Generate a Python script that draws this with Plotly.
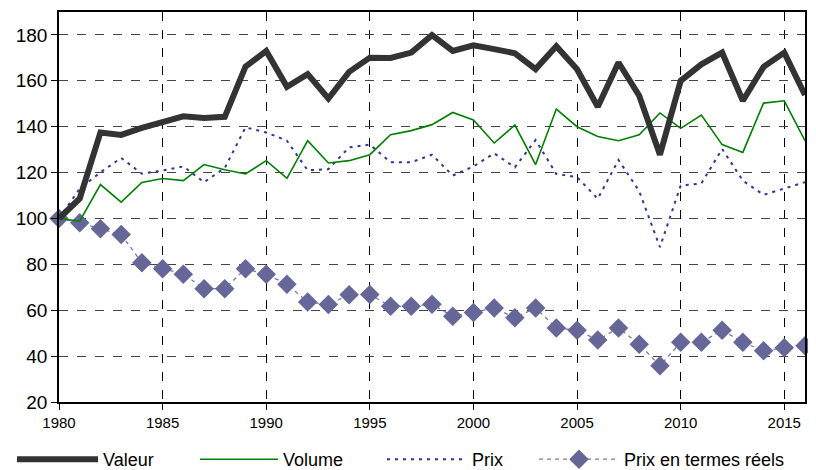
import plotly.graph_objects as go

years = list(range(1980, 2017))

valeur = [100, 108.7, 137.5, 136.4, 139.5, 142.3, 144.5, 143.8, 144.3, 166.2,
          173, 157.4, 162.9, 152.3, 163.9, 170.1, 170, 172.3, 179.9, 173,
          175.5, 173.8, 172, 165.1, 175.1, 165, 148.7, 168, 153.5, 127.8,
          160, 167.2, 172.3, 151.3, 166.1, 172.3, 153.8]

volume = [100, 98.8, 114.8, 107.1, 115.7, 117.4, 116.5, 123.5, 121.2, 119.4,
          125.2, 117.5, 133.9, 124.2, 125.2, 127.8, 136.5, 138.3, 140.9, 146.2,
          142.9, 132.9, 140.7, 123.5, 147.7, 140, 135.7, 133.9, 136.5, 146,
          139.3, 145.1, 132.2, 128.8, 150.3, 151.3, 133.9]

prix = [100, 113, 120.1, 126.4, 119.5, 120.9, 122.7, 115.8, 122, 139.7,
        137.5, 133.9, 121, 121.5, 131, 132.2, 124.5, 124.5, 127.8, 118.7,
        122.7, 128.4, 122.3, 134.2, 119.4, 118, 108.6, 125.5, 111.9, 87.5,
        114.3, 115.3, 130.3, 116.5, 110.3, 112.9, 115.8]

prix_reel = [100, 98.1, 95.5, 93, 80.7, 78.1, 75.7, 69.4, 69.4, 78.1,
             75.7, 71.3, 63.6, 62.5, 66.8, 66.9, 61.7, 61.7, 62.6, 57.4,
             59, 61, 56.7, 61, 52.3, 51.3, 47, 52.3, 45.2, 35.8,
             46, 46, 51.3, 46, 42.3, 43.6, 44.5]

x_ticks = [1980, 1985, 1990, 1995, 2000, 2005, 2010, 2015]
y_ticks = [20, 40, 60, 80, 100, 120, 140, 160, 180]

FONT = "Liberation Sans"

fig = go.Figure()
fig.add_trace(go.Scatter(x=years, y=prix_reel, name="Prix en termes réels",
                         mode="lines+markers", legend="legend4", cliponaxis=False,
                         line=dict(color="#7878B0", width=1.3, dash="4px,4px"),
                         marker=dict(symbol="diamond", size=15, color="#666699")))
fig.add_trace(go.Scatter(x=years, y=prix, name="Prix", mode="lines", legend="legend3",
                         line=dict(color="#333399", width=2, dash="3px,5px")))
fig.add_trace(go.Scatter(x=years, y=volume, name="Volume", mode="lines", legend="legend2",
                         line=dict(color="#008000", width=1.6)))
fig.add_trace(go.Scatter(x=years, y=valeur, name="Valeur", mode="lines", legend="legend",
                         line=dict(color="#333333", width=6)))


def leg(x, w):
    return dict(orientation="h", x=x / 816, xref="container", xanchor="left",
                y=0.0, yref="container", yanchor="bottom",
                itemwidth=w, font=dict(family=FONT, size=18, color="black"),
                bgcolor="rgba(0,0,0,0)")


fig.update_layout(
    width=816, height=470,
    margin=dict(l=51, r=19, t=4, b=76),
    paper_bgcolor="white", plot_bgcolor="white",
    font=dict(family=FONT, size=17, color="black"),
    showlegend=True,
    legend=leg(4, 81),
    legend2=leg(187, 78),
    legend3=leg(374, 80),
    legend4=leg(526, 80),
    xaxis=dict(range=[1980, 2016], tickvals=x_ticks, ticks="outside", ticklen=6,
               tickcolor="black", showline=True, linecolor="black", linewidth=1.5,
               mirror=True, showgrid=True, gridcolor="black", griddash="dash",
               gridwidth=1, zeroline=False, automargin=False,
               tickfont=dict(family=FONT, size=15)),
    yaxis=dict(range=[20, 190], tickvals=y_ticks, ticks="outside", ticklen=6,
               tickcolor="black", showline=True, linecolor="black", linewidth=1.5,
               mirror=True, showgrid=True, gridcolor="#444444", griddash="dash",
               gridwidth=1, zeroline=False, automargin=False,
               tickfont=dict(family=FONT, size=19)),
)

fig.write_html("out.html")
